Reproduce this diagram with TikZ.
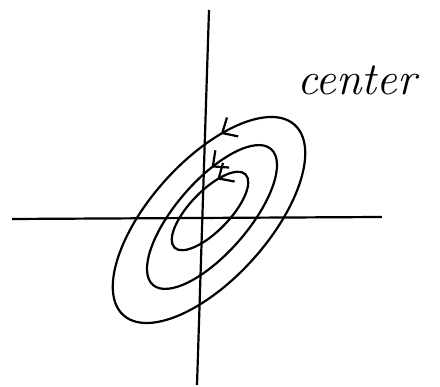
\documentclass[tikz,border=0pt]{standalone}
\usepackage{tikz}
\usetikzlibrary{arrows.meta,decorations.markings}

\begin{document}
\begin{tikzpicture}[x=1pt,y=1pt,line width=2.2pt,
  orbit/.style={decoration={markings,mark=at position #1 with {\arrow{Straight Barb[length=12pt,width=22pt]}}},postaction={decorate}}]
\useasboundingbox (0,0) rectangle (440,387);
% axes
\draw (12,168)--(382,170);
\draw (209,377)--(197,2);
% closed orbits round the equilibrium
\draw[orbit=0.13,rotate around={48:(209,167)}] (209,167) ellipse [x radius=128,y radius=59];
\draw[orbit=0.16,rotate around={49:(212,170)}] (212,170) ellipse [x radius=90,y radius=36];
\draw[orbit=0.13,rotate around={46:(210,176)}] (210,176) ellipse [x radius=51,y radius=20];
\node[font=\fontsize{46}{50}\selectfont\itshape,anchor=base] (lbl) at (357,292) {center};
\end{tikzpicture}
\end{document}
